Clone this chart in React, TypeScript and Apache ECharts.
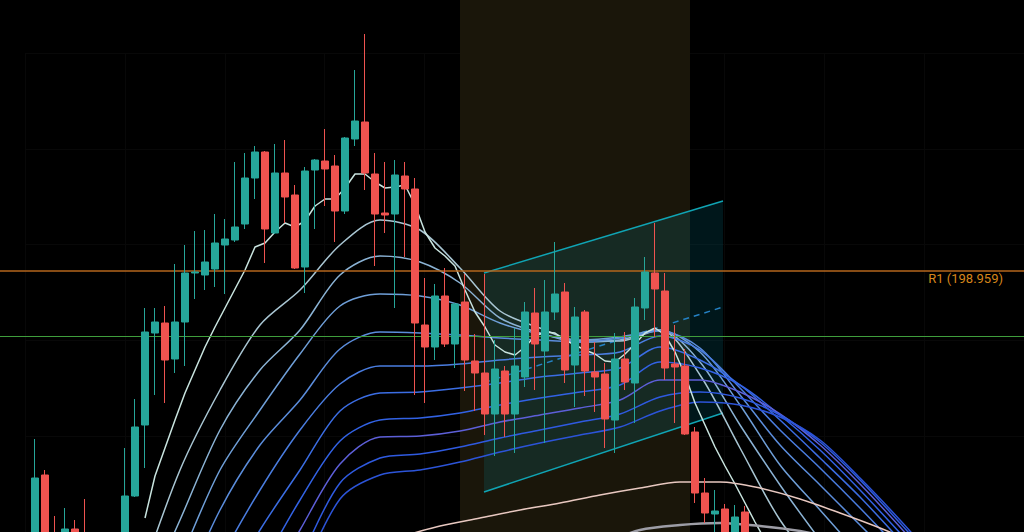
import { useEffect, useRef } from 'react';
import * as echarts from 'echarts';

// candle index 3 is the first visible candle (x = 35px), one candle per index
const firstCandleIndex = 3;
// [open, close, low, high]
const candleOHLC: number[][] = [
  [170.06, 178.26, 168.56, 182.16],
  [178.56, 169.06, 167.06, 179.06],
  [172.06, 170.56, 170.06, 174.46],
  [171.56, 173.16, 170.06, 175.26],
  [173.16, 171.56, 170.56, 174.06],
  [172.06, 170.06, 169.06, 176.16],
  [167.06, 169.06, 166.06, 170.06],
  [168.56, 167.06, 166.06, 169.56],
  [167.56, 170.06, 166.56, 171.56],
  [170.06, 176.46, 169.06, 181.26],
  [176.46, 183.36, 176.36, 186.16],
  [183.56, 192.86, 179.26, 195.26],
  [192.76, 193.86, 186.56, 195.26],
  [193.76, 190.06, 185.76, 195.46],
  [190.16, 193.86, 188.76, 199.66],
  [193.86, 198.76, 189.46, 201.56],
  [198.76, 198.86, 196.16, 202.96],
  [198.56, 199.86, 197.06, 203.06],
  [199.16, 201.76, 197.36, 204.66],
  [201.56, 202.16, 196.66, 204.16],
  [202.06, 203.36, 201.86, 209.86],
  [203.66, 208.26, 203.16, 210.76],
  [208.26, 210.86, 206.16, 211.46],
  [210.86, 203.16, 199.76, 210.96],
  [202.76, 208.76, 202.66, 211.66],
  [208.76, 206.36, 203.76, 212.06],
  [206.56, 199.26, 199.16, 207.56],
  [199.36, 208.96, 196.76, 209.36],
  [209.06, 210.06, 203.16, 210.16],
  [209.96, 209.16, 205.46, 213.16],
  [209.46, 204.96, 201.86, 210.56],
  [204.96, 212.26, 204.66, 212.36],
  [212.16, 213.96, 211.46, 219.06],
  [213.86, 208.76, 207.06, 222.66],
  [208.66, 204.66, 199.46, 210.76],
  [204.76, 204.56, 202.76, 209.86],
  [204.66, 208.56, 195.26, 210.06],
  [208.46, 207.16, 200.36, 209.86],
  [207.16, 193.76, 186.56, 208.26],
  [193.56, 191.36, 185.76, 198.26],
  [191.36, 196.46, 190.06, 197.66],
  [196.46, 191.66, 191.36, 199.26],
  [191.66, 195.66, 189.26, 195.76],
  [195.86, 190.06, 186.96, 198.66],
  [189.96, 188.76, 184.96, 192.66],
  [188.76, 184.66, 182.56, 198.66],
  [184.66, 189.16, 180.46, 192.06],
  [188.96, 184.66, 182.36, 189.46],
  [184.66, 189.46, 180.76, 193.26],
  [188.36, 194.86, 187.36, 195.86],
  [194.76, 191.66, 187.06, 197.26],
  [190.96, 194.86, 181.76, 198.06],
  [194.86, 196.66, 194.06, 201.86],
  [196.86, 189.06, 187.76, 197.76],
  [189.56, 194.36, 185.36, 195.36],
  [194.86, 188.96, 186.46, 195.06],
  [188.86, 188.36, 184.86, 191.86],
  [188.66, 184.16, 181.26, 189.76],
  [184.06, 190.16, 180.76, 192.76],
  [190.16, 187.86, 187.06, 192.86],
  [187.76, 195.36, 183.76, 196.26],
  [195.26, 198.86, 194.06, 200.36],
  [198.76, 197.16, 192.36, 203.76],
  [196.96, 189.26, 188.06, 198.76],
  [189.66, 189.36, 183.76, 193.56],
  [189.46, 182.66, 182.56, 191.16],
  [182.86, 176.76, 175.76, 183.36],
  [176.76, 174.76, 173.76, 178.26],
  [174.66, 174.96, 172.06, 177.06],
  [175.16, 171.56, 171.06, 175.66],
  [171.56, 174.36, 171.06, 175.56],
  [174.86, 171.56, 171.06, 175.46],
];

// fastest average, one value per candle from index 14
const ema1Start = 14;
const ema1 = [
  174.26, 178.46, 181.26, 184.06, 186.76, 189.06, 191.36, 193.36, 195.26, 197.16,
  199.06, 201.36, 201.76, 202.86, 203.76, 203.36, 203.96, 205.46, 206.16, 206.16,
  207.26, 208.66, 208.66, 207.86, 207.26, 207.36, 207.56, 205.56, 202.86, 201.26,
  200.46, 199.46, 197.06, 194.86, 193.36, 191.56, 190.86, 190.56, 191.36, 192.46,
  192.86, 192.76, 192.06, 191.56, 191.06, 190.66, 189.96, 189.86, 190.66, 191.66,
  192.76, 193.26, 192.56, 190.86, 188.56, 185.76, 183.56, 181.36, 179.46, 177.66,
  175.76, 173.86, 172.06,
];

// slower averages sampled every 4 candles
const ribbonIndex = [13.5, 17.5, 21.5, 25.5, 29.5, 33.5, 37.5, 41.5, 45.5, 49.5, 53.5, 57.5, 61.5, 65.5, 69.5, 73.5, 77.5, 81.5, 85.5, 89.5, 93.5];
const ema2 = [168.06, 179.06, 187.06, 193.56, 197.06, 201.56, 204.06, 203.06, 199.26, 194.96, 193.26, 191.96, 191.96, 193.06, 188.56, 181.26, 174.06, 169.06, null, null, null];
const ema3 = [165.06, 174.06, 183.06, 189.06, 193.06, 198.56, 200.46, 199.86, 197.76, 194.26, 192.76, 191.86, 192.06, 193.06, 189.86, 183.56, 177.56, 172.06, null, null, null];
const ema4 = [161.06, 170.06, 179.06, 185.06, 190.66, 195.46, 196.66, 196.46, 195.56, 193.76, 192.66, 192.06, 192.36, 193.06, 190.86, 185.56, 179.56, 175.06, 170.56, null, null];
const ema5 = [null, 166.06, 175.06, 181.56, 186.06, 191.16, 192.86, 192.76, 192.56, 192.26, 192.06, 191.86, 192.26, 192.96, 191.26, 186.56, 181.56, 177.56, 173.56, 169.56, null];
const ema6 = [null, 162.06, 170.06, 177.06, 183.06, 187.66, 189.46, 189.46, 189.66, 190.06, 190.36, 190.56, 190.86, 192.46, 191.06, 187.26, 183.06, 179.26, 175.26, 171.06, null];
const ema7 = [null, null, 166.06, 173.06, 179.06, 184.96, 186.76, 186.86, 187.26, 187.76, 188.36, 188.76, 189.26, 191.36, 190.06, 187.56, 184.06, 180.26, 176.36, 172.06, null];
const ema8 = [null, null, 162.06, 169.06, 176.06, 181.96, 184.06, 184.26, 184.76, 185.56, 186.26, 186.86, 187.56, 189.86, 189.26, 187.56, 184.56, 181.06, 177.06, 172.76, null];
const ema9 = [null, null, null, 166.06, 173.06, 179.66, 182.36, 182.46, 182.96, 183.86, 184.56, 185.26, 186.06, 188.06, 188.06, 186.86, 184.66, 181.56, 177.66, 173.36, 168.86];
const ema10 = [null, null, null, 162.06, 170.06, 177.76, 180.26, 180.66, 181.36, 182.26, 183.06, 183.86, 184.66, 186.36, 186.86, 186.26, 184.56, 181.86, 178.06, 173.76, 169.26];
const ema11 = [null, null, null, null, 168.06, 176.16, 178.56, 179.06, 179.86, 180.86, 181.76, 182.56, 183.36, 184.96, 185.86, 185.56, 184.36, 182.06, 178.26, 174.06, 169.56];

const slowIndex = [39.5, 43.5, 47.5, 51.5, 55.5, 59.5, 63.5, 67.5, 71.5, 75.5, 79.5, 83.5, 87.5, 91.5];
const slowAverage = [172.36, 173.46, 174.26, 175.06, 175.76, 176.56, 177.26, 177.86, 177.86, 177.26, 176.16, 174.76, 173.26, 171.56];
const slowestIndex = [59.5, 63.5, 67.5, 71.5, 75.5, 79.5, 83.5];
const slowestAverage = [171.56, 173.06, 173.56, 173.76, 173.46, 172.96, 172.06];

const r1Level = 198.959;
const pivotLevel = 192.46;
const bandRange = [45.5, 68.5];
const channelIndex = [47.9, 71.8];
const channelUpper = [198.76, 205.96];
const channelLower = [176.86, 184.76];

const ribbonColors = ['#a9c6d3', '#8bb3d5', '#6f9fd8', '#5b8ddc', '#4a7de0', '#3b6de3', '#3262e4', '#5d5fd8', '#2f5ae0', '#2c54d8'];

export default function App() {
  const ref = useRef<HTMLDivElement>(null);
  useEffect(() => {
    if (!ref.current) return;
    const chart = echarts.init(ref.current, undefined, { renderer: 'svg' });
    const pairs = (idx: number[], vals: (number | null)[]) =>
      idx.map((x, i) => [x, vals[i]]).filter((p) => p[1] != null);
    const ribbons = [ema2, ema3, ema4, ema5, ema6, ema7, ema8, ema9, ema10, ema11];
    const lineSeries: any[] = ribbons.map((vals, i) => ({
      type: 'line',
      data: pairs(ribbonIndex, vals),
      symbol: 'none',
      smooth: 0.3,
      silent: true,
      z: 3,
      lineStyle: { color: ribbonColors[i], width: 1.5 },
    }));
    lineSeries.push({
      type: 'line',
      data: ema1.map((v, i) => [ema1Start + i, v]),
      symbol: 'none',
      silent: true,
      z: 3,
      lineStyle: { color: '#c9e4df', width: 1.5 },
    });
    lineSeries.push({
      type: 'line',
      data: pairs(slowIndex, slowAverage),
      symbol: 'none',
      smooth: 0.3,
      silent: true,
      z: 3,
      lineStyle: { color: '#e8c8c0', width: 1.5 },
    });
    lineSeries.push({
      type: 'line',
      data: pairs(slowestIndex, slowestAverage),
      symbol: 'none',
      smooth: 0.3,
      silent: true,
      z: 3,
      lineStyle: { color: '#9d9da6', width: 2.5 },
    });

    chart.setOption({
      animation: false,
      backgroundColor: '#000000',
      grid: [
        { left: 0, right: 0, top: 0, bottom: 0 },
        { left: 25, right: -1, top: 53, bottom: 0 },
      ],
      xAxis: [
        { type: 'value', min: -0.5, max: 101.9, show: false, gridIndex: 0 },
        {
          type: 'value', gridIndex: 1, min: 0, max: 1000, interval: 100,
          axisLine: { show: false }, axisTick: { show: false }, axisLabel: { show: false },
          splitLine: { show: true, lineStyle: { color: '#080808', width: 1 } },
        },
      ],
      yAxis: [
        { type: 'value', min: 172.86, max: 226.06, show: false, gridIndex: 0 },
        {
          type: 'value', gridIndex: 1, inverse: true, min: 0, max: 467.5, interval: 93.5,
          axisLine: { show: false }, axisTick: { show: false }, axisLabel: { show: false },
          splitLine: { show: true, lineStyle: { color: '#080808', width: 1 } },
        },
      ],
      series: [
        {
          type: 'line',
          data: [[0, 0]],
          symbol: 'none',
          silent: true,
          z: 0,
          markArea: {
            silent: true,
            itemStyle: { color: '#1a160a' },
            data: [[{ xAxis: bandRange[0] }, { xAxis: bandRange[1] }]],
          },
        },
        {
          type: 'custom',
          silent: true,
          z: 1,
          data: [[channelIndex[0], channelUpper[0]]],
          renderItem: (_p: any, api: any) => {
            const tl = api.coord([channelIndex[0], channelUpper[0]]);
            const tr = api.coord([channelIndex[1], channelUpper[1]]);
            const br = api.coord([channelIndex[1], channelLower[1]]);
            const bl = api.coord([channelIndex[0], channelLower[0]]);
            const ml = api.coord([channelIndex[0], (channelUpper[0] + channelLower[0]) / 2]);
            const mr = api.coord([channelIndex[1], (channelUpper[1] + channelLower[1]) / 2]);
            return {
              type: 'group',
              children: [
                { type: 'polygon', shape: { points: [tl, tr, br, bl] }, style: { fill: 'rgba(0,180,205,0.13)' } },
                { type: 'line', shape: { x1: tl[0], y1: tl[1], x2: tr[0], y2: tr[1] }, style: { stroke: '#10a4b4', lineWidth: 1.5 } },
                { type: 'line', shape: { x1: bl[0], y1: bl[1], x2: br[0], y2: br[1] }, style: { stroke: '#10a4b4', lineWidth: 1.5 } },
                { type: 'line', shape: { x1: ml[0], y1: ml[1], x2: mr[0], y2: mr[1] }, style: { stroke: '#2481c4', lineWidth: 1.5, lineDash: [6, 5] } },
              ],
            };
          },
        },
        ...lineSeries,
        {
          type: 'candlestick',
          data: candleOHLC.map((c, i) => [firstCandleIndex + i, ...c]),
          encode: { x: 0, y: [1, 2, 3, 4] },
          barWidth: 8,
          silent: true,
          z: 5,
          itemStyle: {
            color: '#26a69a',
            color0: '#ef5350',
            borderColor: '#26a69a',
            borderColor0: '#ef5350',
            borderWidth: 1,
          },
        },
        {
          type: 'line',
          data: [[0, 0]],
          symbol: 'none',
          silent: true,
          z: 10,
          markLine: {
            silent: true,
            symbol: ['none', 'none'],
            label: { show: false },
            data: [
              { yAxis: r1Level, lineStyle: { color: '#b5661c', width: 1.5, type: 'solid' } },
              { yAxis: pivotLevel, lineStyle: { color: '#3f9d3c', width: 1, type: 'solid' } },
            ],
          },
        },
      ],
      graphic: [
        {
          type: 'text',
          right: 21,
          top: 272,
          style: { text: 'R1 (198.959)', fill: '#d6861b', font: '13px Roboto' },
        },
      ],
    });
    return () => chart.dispose();
  }, []);
  return <div ref={ref} style={{ position: 'fixed', left: 0, top: 0, width: 1024, height: 532 }} />;
}
